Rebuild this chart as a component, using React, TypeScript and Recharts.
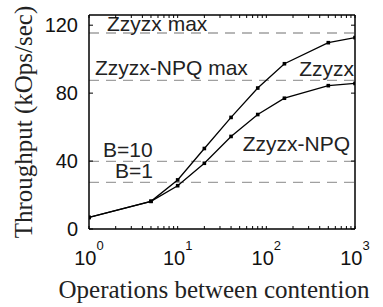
import { LineChart, Line, XAxis, YAxis, ReferenceLine, ReferenceDot } from "recharts";

// operations between contention (x) and throughput in kOps/sec (y)
const ops = [1, 5, 10, 20, 40, 80, 160, 500, 1000];
const zzyzx = [6.8, 16.3, 28.9, 47.4, 65.7, 83, 97.3, 109.7, 112.7];
const zzyzxNpq = [6.8, 16.3, 25.5, 38.7, 54.5, 67.4, 77, 84.4, 85.7];

// dashed reference levels
const limitNames = ["Zzyzx max", "Zzyzx-NPQ max", "B=10", "B=1"];
const limitValues = [115.4, 87.5, 39.8, 27.5];

const yTicks = [0, 40, 80, 120];
const decadeTicks = [1, 10, 100, 1000];
const decadeExps = ["0", "1", "2", "3"];
const minorTicks = [2, 3, 4, 5, 6, 7, 8, 9, 20, 30, 40, 50, 60, 70, 80, 90, 200, 300, 400, 500, 600, 700, 800, 900];

const SANS = "'Liberation Sans', Arial, Helvetica, sans-serif";
const SERIF = "'Liberation Serif', 'Times New Roman', serif";

const data = ops.map((x, i) => ({ x, zzyzx: zzyzx[i], npq: zzyzxNpq[i] }));
const xTicks = [...decadeTicks, ...minorTicks].sort((a, b) => a - b);

// where each level's caption sits, relative to the left end of its line
const limitLabelDx = [18, 6, 14, 26];
const limitLabelDy = [-2, -5, -4, -4];

const Square = (p: any) => {
  if (p.cx == null || p.cy == null) return <g key={p.key} />;
  return <rect key={p.key} x={p.cx - 1.8} y={p.cy - 1.8} width={3.6} height={3.6} fill="#000" />;
};

const XTick = (p: any) => {
  const i = decadeTicks.indexOf(p.payload.value);
  if (i < 0) return <g />;
  return (
    <text x={p.x} y={p.y + 36} textAnchor="middle" fontFamily={SANS} fontSize={20} fill="#111">
      <tspan>10</tspan>
      <tspan dy={-15} fontSize={13}>{decadeExps[i]}</tspan>
    </text>
  );
};

const NoTick = () => <g />;

const note = (text: string, dx: number, dy: number, anchor: "start" | "end" = "start") =>
  (p: any) => {
    const vb = p.viewBox || {};
    const x = anchor === "start" ? vb.x + dx : vb.x + (vb.width || 0) + dx;
    return (
      <text x={x} y={vb.y + dy} textAnchor={anchor} fontFamily={SANS} fontSize={21} fill="#222">
        {text}
      </text>
    );
  };

export default function App() {
  return (
    <div style={{ position: "absolute", left: 0, top: 0, background: "#fff" }}>
      <LineChart width={383} height={307} data={data} margin={{ top: 0, right: 0, bottom: 0, left: 0 }}>
        <XAxis
          dataKey="x"
          type="number"
          scale="log"
          domain={[1, 1000]}
          allowDataOverflow
          ticks={xTicks}
          interval={0}
          height={78}
          tickSize={-3}
          tickMargin={3}
          tick={XTick}
          axisLine={{ stroke: "#000", strokeWidth: 1.5 }}
          tickLine={{ stroke: "#000" }}
          label={(p: any) => {
            const vb = p.viewBox || {};
            return (
              <text x={vb.x + vb.width / 2 - 8} y={vb.y + 69} textAnchor="middle" fontFamily={SERIF} fontSize={25} fill="#222">
                Operations between contention
              </text>
            );
          }}
        />
        <XAxis
          xAxisId="top"
          orientation="top"
          dataKey="x"
          type="number"
          scale="log"
          domain={[1, 1000]}
          allowDataOverflow
          ticks={xTicks}
          interval={0}
          height={15}
          tickSize={-3}
          tick={NoTick}
          axisLine={{ stroke: "#000", strokeWidth: 1.5 }}
          tickLine={{ stroke: "#000" }}
        />
        <YAxis
          type="number"
          domain={[0, 126]}
          allowDataOverflow
          ticks={yTicks}
          width={89}
          tickSize={-4}
          tickMargin={15}
          tick={{ fontFamily: SANS, fontSize: 20, fill: "#111" }}
          axisLine={{ stroke: "#000", strokeWidth: 1.5 }}
          tickLine={{ stroke: "#000" }}
          label={(p: any) => {
            const vb = p.viewBox || {};
            const cy = vb.y + vb.height / 2;
            return (
              <text x={32} y={cy} transform={`rotate(-90 32 ${cy})`} textAnchor="middle" fontFamily={SERIF} fontSize={25} fill="#222">
                Throughput (kOps/sec)
              </text>
            );
          }}
        />
        <YAxis
          yAxisId="right"
          orientation="right"
          type="number"
          domain={[0, 126]}
          allowDataOverflow
          ticks={yTicks}
          width={28}
          tickSize={-4}
          tick={NoTick}
          axisLine={{ stroke: "#000", strokeWidth: 1.5 }}
          tickLine={{ stroke: "#000" }}
        />
        {limitValues.map((v, i) => (
          <ReferenceLine
            key={limitNames[i]}
            y={v}
            stroke="#a0a0a0"
            strokeWidth={1.3}
            strokeDasharray="10 7"
            label={note(limitNames[i], limitLabelDx[i], limitLabelDy[i])}
          />
        ))}
        <ReferenceDot x={1000} y={89.9} r={0} fill="none" stroke="none" label={note("Zzyzx", -1, 0, "end")} />
        <ReferenceDot x={1000} y={45.8} r={0} fill="none" stroke="none" label={note("Zzyzx-NPQ", -5, 0, "end")} />
        <Line dataKey="npq" stroke="#000" strokeWidth={1.3} dot={Square} isAnimationActive={false} />
        <Line dataKey="zzyzx" stroke="#000" strokeWidth={1.3} dot={Square} isAnimationActive={false} />
      </LineChart>
    </div>
  );
}
